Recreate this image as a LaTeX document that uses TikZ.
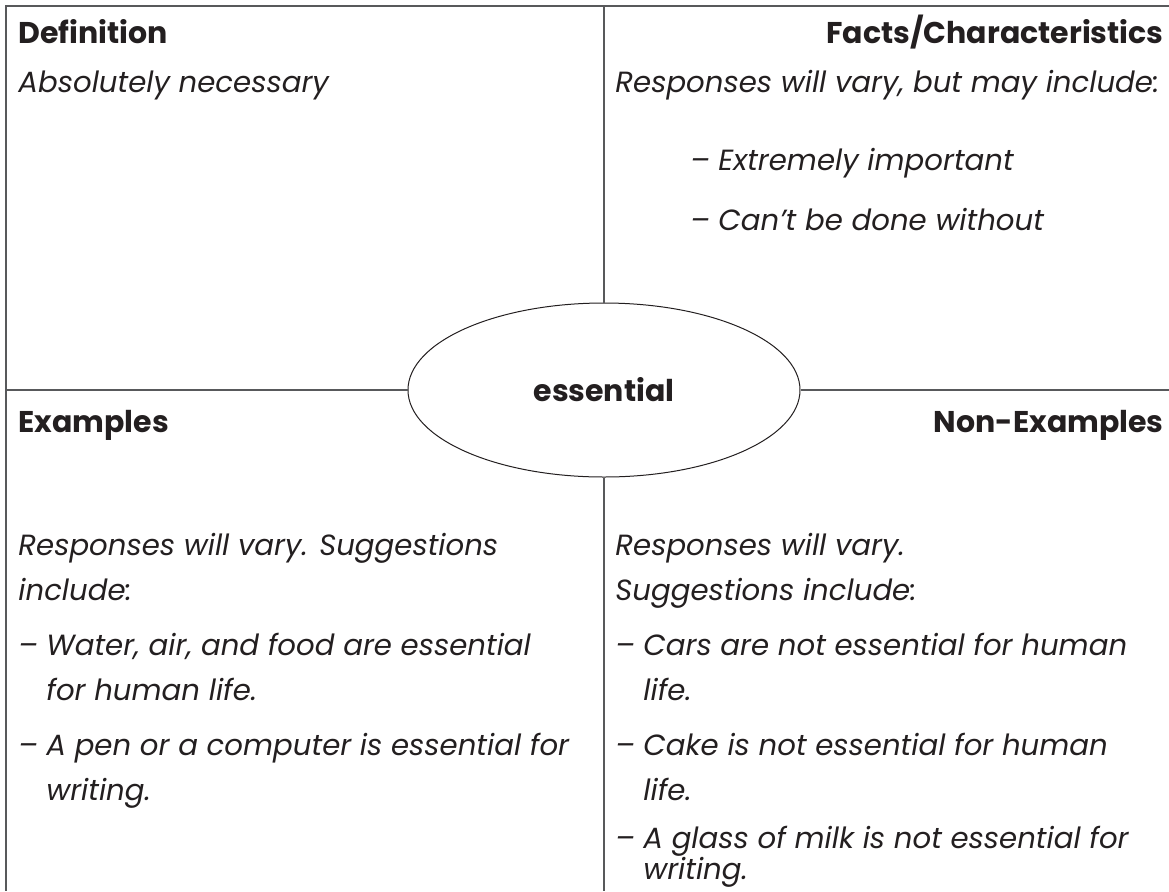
\documentclass[tikz,border=0pt]{standalone}
\usepackage{fontspec}
\setmainfont{Poppins}
\usetikzlibrary{positioning}
\usetikzlibrary{shapes.geometric}
\definecolor{ink}{HTML}{231F20}
\definecolor{rulegray}{HTML}{58595B}
\newcommand{\dashitem}{\makebox[14pt][l]{–}}

\begin{document}
\begin{tikzpicture}[x=0.5pt,y=-0.5pt,
    grid/.style={draw=rulegray,line width=1pt},
    head/.style={font=\fontsize{15}{18}\selectfont\bfseries,text=ink,inner sep=0pt},
    body/.style={font=\fontsize{14.6}{18}\selectfont\itshape,text=ink,inner sep=0pt},
    core/.style={ellipse,draw=ink,line width=0.5pt,inner sep=0pt,
      minimum width=196pt,minimum height=87pt,
      font=\fontsize{15}{18}\selectfont\bfseries,text=ink}]
  \useasboundingbox (0,0) rectangle (1169,891);
  \coordinate (TL) at (6,6);
  \coordinate (TR) at (1169,6);
  \coordinate (BL) at (6,891);
  \coordinate (Top) at (604,6);
  \coordinate (Bot) at (604,891);
  \coordinate (Lft) at (6,390);
  \coordinate (Rgt) at (1169,390);
  \node[core] (word) at (604,390) {essential};
  \draw[grid] (TR) -- (TL) -- (BL);% frame
  \draw[grid] (Top) -- (word.north);
  \draw[grid] (word.south) -- (Bot);
  \draw[grid] (Lft) -- (word.west);
  \draw[grid] (word.east) -- (Rgt);
  % headings
  \node[head,anchor=base west] (defn) at (18,43) {Definition};
  \node[head,anchor=base east] (facts) at (1164,43) {Facts/Characteristics};
  \node[head,anchor=base west] (exa) at (18,432) {Examples};
  \node[head,anchor=base east] (nonexa) at (1164,432) {Non-Examples};
  % definition
  \node[body,anchor=base west] (defntext) at (18,92) {Absolutely necessary};
  % facts
  \node[body,anchor=base west] (fact1) at (615,92) {Responses will vary, but may include:};
  \node[body,anchor=base west] (fact2) at (690,170) {\dashitem Extremely important};
  \node[body,anchor=base west] (fact3) at (690,230) {\dashitem Can’t be done without};
  % examples
  \foreach \xx/\yy/\tt [count=\i] in {
      18/555/{Responses will vary. Suggestions},
      18/600/{include:},
      18/655/{\dashitem Water, air, and food are essential},
      46/700/{for human life.},
      18/755/{\dashitem A pen or a computer is essential for},
      46/800/{writing.}}
    \node[body,anchor=base west] (exa\i) at (\xx,\yy) {\tt};
  % non-examples
  \foreach \xx/\yy/\tt [count=\i] in {
      615/555/{Responses will vary.},
      615/600/{Suggestions include:},
      615/655/{\dashitem Cars are not essential for human},
      643/700/{life.},
      615/755/{\dashitem Cake is not essential for human},
      643/800/{life.},
      615/848/{\dashitem A glass of milk is not essential for},
      643/879/{writing.}}
    \node[body,anchor=base west] (non\i) at (\xx,\yy) {\tt};
\end{tikzpicture}
\end{document}
